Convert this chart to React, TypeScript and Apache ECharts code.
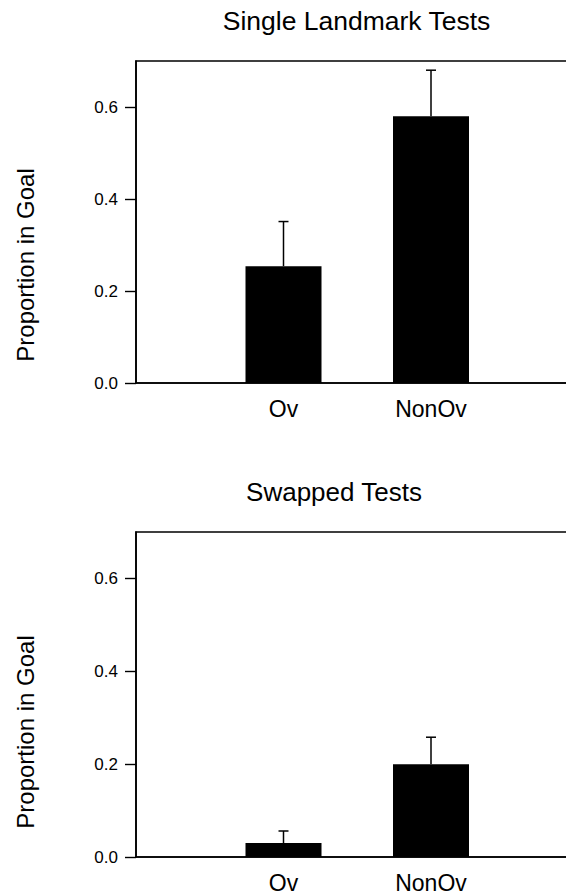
import React, { useEffect, useRef } from "react";
import * as echarts from "echarts";

const categories = ["Ov", "NonOv"];
const categoryPositions = [1, 2];
const singleValues = [0.254, 0.58];
const singleErrors = [0.097, 0.1];
const swappedValues = [0.03, 0.2];
const swappedErrors = [0.026, 0.058];
const yTicks = [0, 0.2, 0.4, 0.6];
const panelTitles = ["Single Landmark Tests", "Swapped Tests"];
const yAxisTitle = "Proportion in Goal";

const FONT = 'Arial, "Liberation Sans", Helvetica, sans-serif';

export default function App() {
  const ref = useRef<HTMLDivElement>(null);

  useEffect(() => {
    if (!ref.current) return;
    const chart = echarts.init(ref.current, undefined, { renderer: "svg" });

    const grids = [
      { left: 136, top: 61, width: 442.5, height: 322 },
      { left: 136, top: 532, width: 442.5, height: 325 },
    ];

    const xAxes = grids.map((_, i) => ({
      type: "value",
      gridIndex: i,
      min: 0,
      max: 3,
      interval: 1,
      axisLine: { show: true, onZero: false, lineStyle: { color: "#000", width: 1.6 } },
      axisTick: { show: false },
      splitLine: { show: false },
      axisLabel: {
        customValues: categoryPositions,
        formatter: (v: number) => categories[categoryPositions.indexOf(v)] ?? "",
        color: "#000",
        fontFamily: FONT,
        fontSize: 23,
        margin: 14,
      },
    }));

    const yAxes = grids.map((_, i) => ({
      type: "value",
      gridIndex: i,
      min: 0,
      max: 0.7,
      interval: 0.1,
      axisLine: { show: true, lineStyle: { color: "#000", width: 1.6 } },
      axisTick: {
        show: true,
        inside: false,
        length: 11,
        customValues: yTicks,
        lineStyle: { color: "#000", width: 1.4 },
      },
      splitLine: { show: false },
      axisLabel: {
        customValues: yTicks,
        formatter: (v: number) => v.toFixed(1),
        color: "#000",
        fontFamily: FONT,
        fontSize: 17,
        margin: 18,
      },
    }));

    const panels = [
      { values: singleValues, errors: singleErrors },
      { values: swappedValues, errors: swappedErrors },
    ];

    const series: any[] = [];
    panels.forEach((p, i) => {
      series.push({
        type: "bar",
        xAxisIndex: i,
        yAxisIndex: i,
        barWidth: 76,
        itemStyle: { color: "#000" },
        data: categoryPositions.map((x, j) => [x, p.values[j]]),
        z: 2,
      });
      series.push({
        type: "custom",
        xAxisIndex: i,
        yAxisIndex: i,
        z: 3,
        data: categoryPositions.map((x, j) => [x, p.values[j], p.errors[j]]),
        renderItem: (params: any, api: any) => {
          const x = api.value(0);
          const v = api.value(1);
          const e = api.value(2);
          const base = api.coord([x, v]);
          const top = api.coord([x, v + e]);
          const style = { stroke: "#000", lineWidth: 1.5 };
          return {
            type: "group",
            children: [
              { type: "line", shape: { x1: base[0], y1: base[1], x2: top[0], y2: top[1] }, style },
              { type: "line", shape: { x1: top[0] - 5, y1: top[1], x2: top[0] + 5, y2: top[1] }, style },
            ],
          };
        },
      });
    });

    const titleSpecs = [
      { x: 356.5, y: 21, size: 26.5 },
      { x: 334, y: 492, size: 26 },
    ];
    const axisTitleCenters = [
      { x: 25, y: 265 },
      { x: 25, y: 732 },
    ];

    const graphic: any[] = [];
    panelTitles.forEach((t, i) => {
      graphic.push({
        type: "text",
        x: titleSpecs[i].x,
        y: titleSpecs[i].y,
        style: {
          text: t,
          fill: "#000",
          font: `${titleSpecs[i].size}px ${FONT}`,
          align: "center",
          verticalAlign: "middle",
        },
      });
      graphic.push({
        type: "text",
        x: axisTitleCenters[i].x,
        y: axisTitleCenters[i].y,
        rotation: Math.PI / 2,
        style: {
          text: yAxisTitle,
          fill: "#000",
          font: `24px ${FONT}`,
          align: "center",
          verticalAlign: "middle",
        },
      });
    });

    chart.setOption({
      animation: false,
      backgroundColor: "#fff",
      grid: grids.map((g) => ({
        ...g,
        show: true,
        borderColor: "#000",
        borderWidth: 1.6,
        backgroundColor: "transparent",
        containLabel: false,
      })),
      xAxis: xAxes,
      yAxis: yAxes,
      series,
      graphic,
    });

    return () => chart.dispose();
  }, []);

  return (
    <div
      style={{
        position: "absolute",
        left: 0,
        top: 0,
        width: 566,
        height: 894,
        overflow: "hidden",
        background: "#fff",
      }}
    >
      <div ref={ref} style={{ width: 600, height: 894 }} />
    </div>
  );
}
